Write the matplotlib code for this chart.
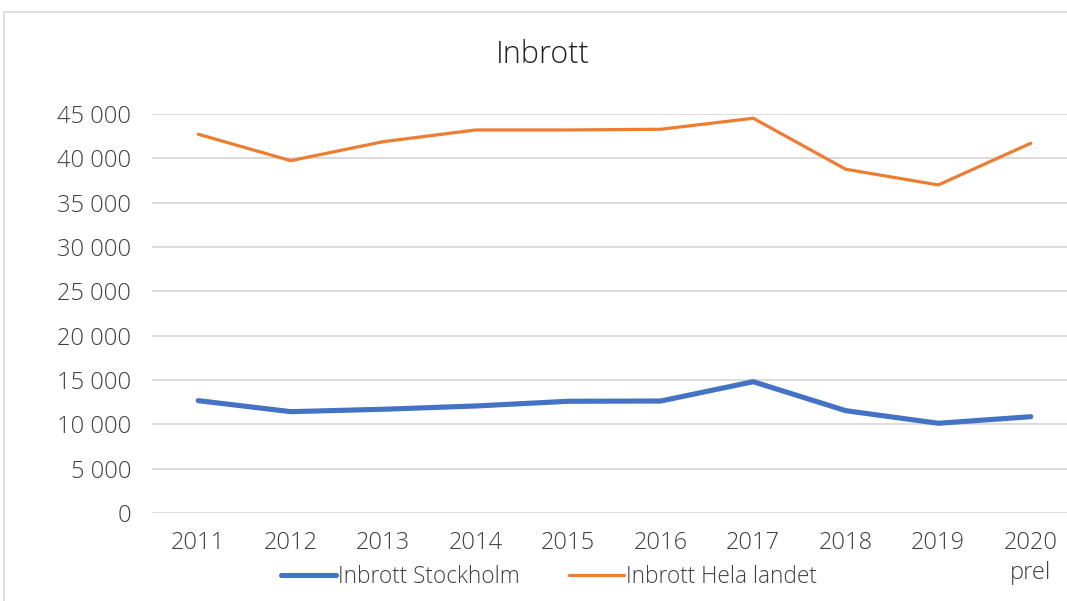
import matplotlib
matplotlib.use("Agg")
import matplotlib.pyplot as plt
from matplotlib.patches import Rectangle
from matplotlib.ticker import FuncFormatter

years = ["2011", "2012", "2013", "2014", "2015", "2016", "2017", "2018", "2019", "2020\nprel"]
stockholm = [12670, 11430, 11700, 12070, 12600, 12630, 14810, 11540, 10120, 10860]
hela_landet = [42720, 39740, 41880, 43200, 43200, 43280, 44520, 38770, 37000, 41700]
y_ticks = list(range(0, 45001, 5000))

BLUE, ORANGE, GRID, TXT = "#4472C4", "#ED7D31", "#d9d9d9", "#404040"
W, H = 1067, 601

plt.rcParams.update({"font.family": ["Open Sans", "DejaVu Sans"], "font.weight": "light",
                     "text.color": TXT})

fig = plt.figure(figsize=(W / 100, H / 100), dpi=100)
fig.patch.set_facecolor("white")

# outer chart frame (cropped on the right/bottom in the source)
fig.add_artist(Rectangle((4 / W, -0.1), 1.2, 1 - 12 / H + 0.1, transform=fig.transFigure,
                         fill=False, edgecolor=GRID, lw=1.2))

# plot area runs past the right edge, as in the screenshot
left, right, top, bottom = 152, 1077, 114, 513
ax = fig.add_axes([left / W, (H - bottom) / H, (right - left) / W, (bottom - top) / H])

x = range(len(years))
ax.plot(x, hela_landet, color=ORANGE, lw=2.3, solid_capstyle="round", solid_joinstyle="round",
        label="Inbrott Hela landet", clip_on=False)
ax.plot(x, stockholm, color=BLUE, lw=3.7, solid_capstyle="round", solid_joinstyle="round",
        label="Inbrott Stockholm", clip_on=False)

ax.set_xlim(-0.5, len(years) - 0.5)
ax.set_ylim(0, 45000)
ax.set_yticks(y_ticks)
ax.yaxis.set_major_formatter(FuncFormatter(lambda v, p: f"{int(v):,}".replace(",", " ")))
ax.set_xticks(list(x))
ax.set_xticklabels(years, linespacing=1.35)
ax.tick_params(axis="both", length=0, labelsize=17, colors=TXT)
ax.tick_params(axis="y", pad=15)
ax.tick_params(axis="x", pad=13)
ax.grid(axis="y", color=GRID, lw=1.3)
ax.set_axisbelow(True)
for s in ax.spines.values():
    s.set_visible(False)

fig.text(543 / W, 1 - 55 / H, "Inbrott", ha="center", va="center", fontsize=22, color="#202020")

h, l = ax.get_legend_handles_labels()
fig.legend(h[::-1], l[::-1], loc="center", bbox_to_anchor=(549 / W, 1 - 577 / H), ncol=2,
           frameon=False, fontsize=16.3, handlelength=2.4, handletextpad=0.1, columnspacing=2.2)

fig.savefig("out.png", dpi=100)
